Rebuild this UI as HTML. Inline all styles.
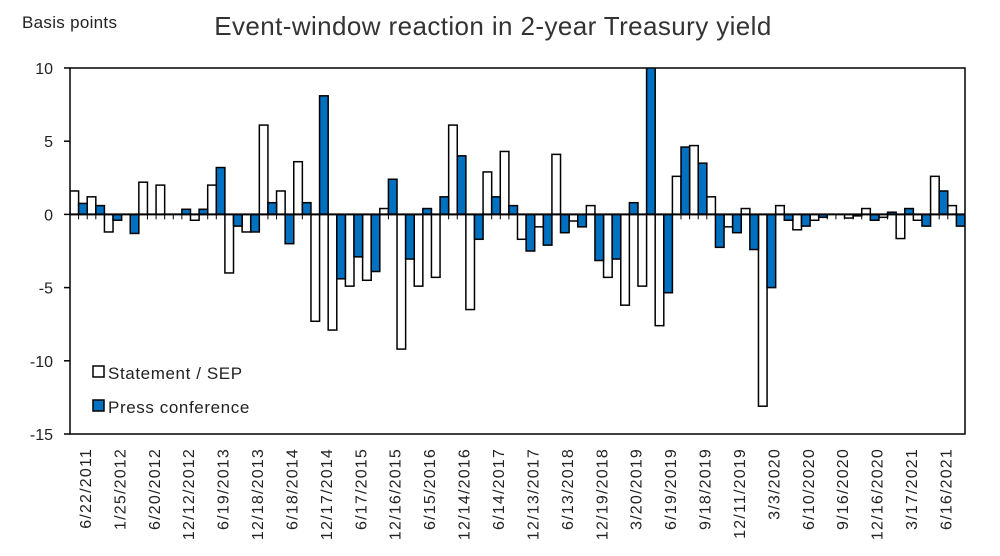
<!DOCTYPE html>
<html><head><meta charset="utf-8"><style>
html,body{margin:0;padding:0;background:#fff;}
svg{display:block;font-family:"Liberation Sans",sans-serif;}
</style></head><body>
<svg id="chart" width="1000" height="556" viewBox="0 0 1000 556">
<text x="22" y="28" font-size="17" fill="#222" letter-spacing="0.3">Basis points</text>
<text x="493" y="35" font-size="26" fill="#333" text-anchor="middle" letter-spacing="0.4">Event-window reaction in 2-year Treasury yield</text>
<defs><clipPath id="pc"><rect x="70" y="68" width="895" height="366"/></clipPath></defs>
<g id="bars" clip-path="url(#pc)"></g>
<g id="axes"></g>
<g>
<rect x="93" y="366" width="11" height="11" fill="#fff" stroke="#000" stroke-width="1.5"/>
<text x="108" y="379" font-size="17" fill="#222" letter-spacing="0.6">Statement / SEP</text>
<rect x="93" y="400" width="11" height="11" fill="#0070c0" stroke="#000" stroke-width="1.5"/>
<text x="108" y="413" font-size="17" fill="#222" letter-spacing="0.6">Press conference</text>
</g>
</svg>
<script>
const meetingLabels = ["6/22/2011","1/25/2012","6/20/2012","12/12/2012","6/19/2013","12/18/2013","6/18/2014","12/17/2014","6/17/2015","12/16/2015","6/15/2016","12/14/2016","6/14/2017","12/13/2017","6/13/2018","12/19/2018","3/20/2019","6/19/2019","9/18/2019","12/11/2019","3/3/2020","6/10/2020","9/16/2020","12/16/2020","3/17/2021","6/16/2021"];
const statementValues = [1.6,1.2,-1.2,0,2.2,2.0,0,-0.4,2.0,-4.0,-1.2,6.1,1.6,3.6,-7.3,-7.9,-4.9,-4.5,0.4,-9.2,-4.9,-4.3,6.1,-6.5,2.9,4.3,-1.7,-0.85,4.1,-0.45,0.6,-4.3,-6.2,-4.9,-7.6,2.6,4.7,1.2,-0.85,0.4,-13.1,0.6,-1.05,-0.4,0,-0.25,0.4,-0.2,-1.65,-0.4,2.6,0.6];
const pressValues = [0.75,0.6,-0.4,-1.3,0,0,0.35,0.35,3.2,-0.8,-1.2,0.8,-2.0,0.8,8.1,-4.4,-2.9,-3.9,2.4,-3.05,0.4,1.2,4.0,-1.7,1.2,0.6,-2.5,-2.1,-1.25,-0.85,-3.15,-3.05,0.8,10.5,-5.35,4.6,3.5,-2.25,-1.25,-2.4,-5.0,-0.4,-0.8,-0.2,0,-0.1,-0.4,0.15,0.4,-0.8,1.6,-0.8];
const yTicks = [10,5,0,-5,-10,-15];

const NS="http://www.w3.org/2000/svg";
const L=70,R=965,T=68,B=434,YMAX=10,YMIN=-15;
const nSlots=statementValues.length*2;
const slotW=(R-L)/nSlots;
function y(v){return T+(YMAX-v)/(YMAX-YMIN)*(B-T);}
function slotX(i){return L+i*slotW;}
function mk(tag,attrs,parent){const e=document.createElementNS(NS,tag);for(const k in attrs)e.setAttribute(k,attrs[k]);parent.appendChild(e);return e;}
const bars=document.getElementById('bars'),axes=document.getElementById('axes');
function bar(slot,v,fill,name){
  const y0=y(0),y1=y(v);
  const r=mk('rect',{x:slotX(slot),y:Math.min(y0,y1),width:slotW,height:Math.abs(y1-y0),fill:fill,stroke:'#000','stroke-width':1.5},bars);
  
  
}
statementValues.forEach((v,i)=>bar(2*i,v,'#fff','bar-statement-'+i));
pressValues.forEach((v,i)=>bar(2*i+1,v,'#0070c0','bar-press-'+i));
const frame=mk('rect',{x:L,y:T,width:R-L,height:B-T,fill:'none',stroke:'#000','stroke-width':1.5},axes);


const zl=mk('line',{x1:L,x2:R,y1:y(0),y2:y(0),stroke:'#000','stroke-width':2},axes);


for(let i=1;i<nSlots;i++){
  const t=mk('line',{x1:slotX(i),x2:slotX(i),y1:y(0),y2:y(0)+5,stroke:'#000','stroke-width':1},axes);
  
  
}
yTicks.forEach(v=>{
  const t=mk('line',{x1:L-6,x2:L,y1:y(v),y2:y(v),stroke:'#000','stroke-width':1.5},axes);
  
  
  const tx=mk('text',{x:53,y:y(v)+6,'font-size':16,'text-anchor':'end',fill:'#222'},axes);
  tx.textContent=v;
  
  
});
meetingLabels.forEach((lab,i)=>{
  const cx=slotX(4*i+1)+slotW/2+2;
  const tx=mk('text',{x:0,y:0,'font-size':16,'letter-spacing':1.2,'text-anchor':'end',fill:'#222',transform:`translate(${cx+6},448) rotate(-90)`},axes);
  tx.textContent=lab;
  
  
});
</script>
</body></html>
